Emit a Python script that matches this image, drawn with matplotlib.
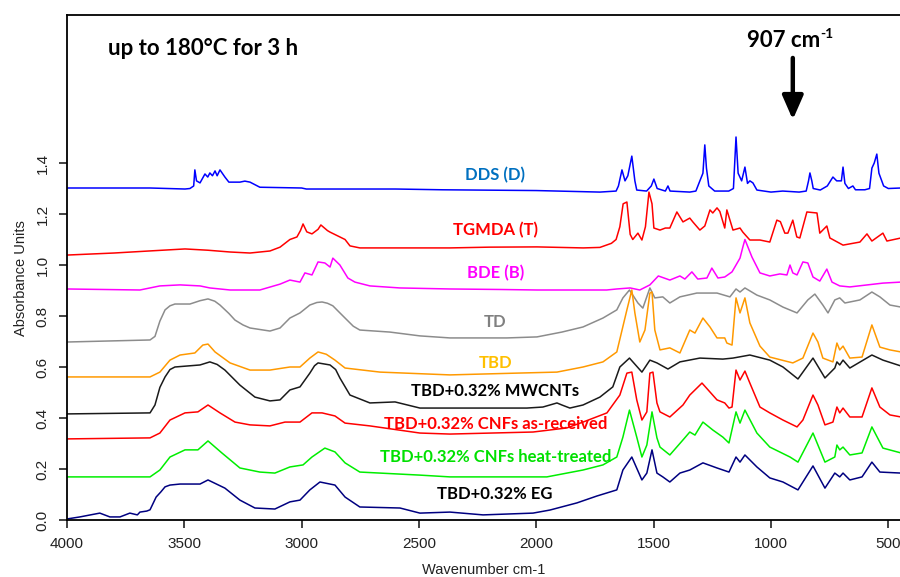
import numpy as np
import matplotlib
matplotlib.use('Agg')
import matplotlib.pyplot as plt

# FTIR spectra (wavenumber cm-1, absorbance), offset stacked as in the original
dds = [(4000, 1.302), (3646, 1.302), (3497, 1.298), (3476, 1.300), (3460, 1.310), (3455, 1.373),
       (3448, 1.330), (3433, 1.322), (3412, 1.357), (3400, 1.345), (3391, 1.361), (3380, 1.350),
       (3369, 1.369), (3360, 1.350), (3348, 1.373), (3327, 1.345), (3310, 1.325), (3284, 1.325),
       (3263, 1.325), (3242, 1.329), (3220, 1.325), (3178, 1.305), (3000, 1.302), (2980, 1.298),
       (2600, 1.298), (2400, 1.295), (2000, 1.292), (1729, 1.286), (1660, 1.290), (1650, 1.310),
       (1635, 1.373), (1622, 1.330), (1610, 1.350), (1593, 1.427), (1580, 1.330), (1572, 1.294),
       (1530, 1.290), (1510, 1.310), (1499, 1.337), (1485, 1.300), (1450, 1.290), (1439, 1.310),
       (1430, 1.290), (1346, 1.286), (1320, 1.290), (1303, 1.330), (1290, 1.360), (1282, 1.471),
       (1275, 1.380), (1265, 1.310), (1240, 1.290), (1180, 1.290), (1160, 1.300), (1149, 1.502),
       (1140, 1.360), (1125, 1.330), (1111, 1.384), (1100, 1.320), (1090, 1.330), (1077, 1.322),
       (1060, 1.294), (1000, 1.286), (950, 1.290), (880, 1.286), (850, 1.290), (840, 1.330),
       (834, 1.361), (826, 1.330), (820, 1.300), (790, 1.294), (760, 1.310), (736, 1.345),
       (720, 1.330), (700, 1.330), (693, 1.384), (685, 1.320), (670, 1.300), (651, 1.310),
       (640, 1.295), (600, 1.295), (580, 1.300), (570, 1.380), (560, 1.400), (549, 1.435),
       (540, 1.360), (520, 1.310), (500, 1.300), (446, 1.302)]

tgmda = [(4000, 1.039), (3800, 1.047), (3650, 1.055), (3497, 1.063), (3400, 1.058), (3305, 1.051),
         (3220, 1.047), (3135, 1.055), (3092, 1.070), (3050, 1.100), (3020, 1.110), (3005, 1.135),
         (2994, 1.161), (2978, 1.130), (2956, 1.122), (2930, 1.140), (2918, 1.157), (2890, 1.135),
         (2879, 1.129), (2837, 1.110), (2815, 1.100), (2794, 1.075), (2752, 1.067), (2368, 1.067),
         (2200, 1.070), (1997, 1.071), (1800, 1.067), (1729, 1.069), (1680, 1.085), (1660, 1.100),
         (1644, 1.150), (1630, 1.240), (1614, 1.247), (1600, 1.120), (1589, 1.100), (1567, 1.125),
         (1550, 1.098), (1535, 1.150), (1520, 1.286), (1507, 1.240), (1499, 1.145), (1473, 1.137),
         (1450, 1.145), (1431, 1.145), (1401, 1.208), (1375, 1.169), (1346, 1.184), (1333, 1.169),
         (1303, 1.137), (1282, 1.153), (1260, 1.216), (1248, 1.204), (1230, 1.224), (1218, 1.210),
         (1197, 1.145), (1188, 1.216), (1162, 1.137), (1132, 1.145), (1120, 1.129), (1090, 1.098),
         (1047, 1.098), (1005, 1.090), (975, 1.176), (960, 1.170), (941, 1.125), (928, 1.125),
         (907, 1.176), (890, 1.110), (877, 1.106), (847, 1.208), (804, 1.204), (792, 1.125),
         (762, 1.153), (749, 1.106), (693, 1.078), (621, 1.090), (591, 1.122), (570, 1.094),
         (523, 1.125), (506, 1.094), (446, 1.106)]

bde = [(4000, 0.906), (3689, 0.902), (3604, 0.918), (3518, 0.922), (3433, 0.918), (3391, 0.910),
       (3305, 0.902), (3178, 0.902), (3092, 0.925), (3050, 0.941), (3007, 0.933), (2986, 0.969),
       (2956, 0.961), (2930, 1.012), (2901, 1.008), (2879, 0.992), (2867, 1.027), (2837, 1.000),
       (2803, 0.949), (2773, 0.933), (2709, 0.918), (2581, 0.910), (2368, 0.906), (2155, 0.904),
       (1997, 0.902), (1700, 0.902), (1657, 0.906), (1600, 0.910), (1559, 0.902), (1516, 0.922),
       (1480, 0.957), (1431, 0.941), (1388, 0.957), (1367, 0.945), (1337, 0.973), (1312, 0.945),
       (1273, 0.949), (1252, 0.988), (1226, 0.949), (1197, 0.953), (1166, 0.973), (1132, 1.027),
       (1120, 1.070), (1111, 1.100), (1098, 1.070), (1081, 1.031), (1047, 0.969), (1005, 0.957),
       (962, 0.965), (932, 0.961), (919, 1.000), (907, 0.969), (889, 0.961), (864, 1.012),
       (843, 1.008), (821, 0.953), (792, 0.937), (762, 0.984), (740, 0.933), (707, 0.918),
       (664, 0.914), (523, 0.929), (446, 0.933)]

td = [(4000, 0.698), (3646, 0.706), (3625, 0.720), (3604, 0.780), (3582, 0.824), (3561, 0.840),
      (3540, 0.847), (3476, 0.847), (3433, 0.860), (3399, 0.867), (3370, 0.858), (3348, 0.843),
      (3310, 0.810), (3284, 0.784), (3250, 0.765), (3220, 0.753), (3135, 0.741), (3092, 0.753),
      (3050, 0.792), (3007, 0.812), (2965, 0.843), (2935, 0.853), (2913, 0.855), (2890, 0.850),
      (2867, 0.840), (2840, 0.815), (2815, 0.792), (2780, 0.760), (2752, 0.745), (2624, 0.737),
      (2496, 0.722), (2368, 0.714), (2125, 0.714), (1997, 0.718), (1891, 0.737), (1801, 0.757),
      (1716, 0.792), (1657, 0.824), (1631, 0.871), (1603, 0.902), (1567, 0.851), (1546, 0.831),
      (1516, 0.910), (1495, 0.871), (1461, 0.875), (1431, 0.851), (1388, 0.875), (1316, 0.890),
      (1230, 0.890), (1175, 0.875), (1149, 0.906), (1132, 0.894), (1111, 0.910), (1060, 0.882),
      (1005, 0.863), (949, 0.835), (889, 0.812), (843, 0.863), (813, 0.886), (779, 0.843),
      (757, 0.812), (728, 0.863), (707, 0.871), (685, 0.851), (621, 0.863), (570, 0.894),
      (536, 0.875), (493, 0.843), (446, 0.835)]

tbd = [(4000, 0.561), (3646, 0.561), (3604, 0.580), (3561, 0.627), (3518, 0.647), (3455, 0.655),
       (3421, 0.686), (3399, 0.690), (3369, 0.659), (3305, 0.616), (3220, 0.588), (3135, 0.588),
       (3050, 0.600), (3007, 0.600), (2965, 0.635), (2930, 0.659), (2895, 0.650), (2858, 0.627),
       (2815, 0.596), (2666, 0.580), (2368, 0.569), (2083, 0.576), (1912, 0.580), (1801, 0.600),
       (1716, 0.620), (1657, 0.659), (1614, 0.824), (1593, 0.902), (1580, 0.812), (1559, 0.698),
       (1537, 0.745), (1516, 0.890), (1507, 0.894), (1495, 0.745), (1473, 0.667), (1431, 0.675),
       (1388, 0.655), (1346, 0.745), (1324, 0.733), (1290, 0.792), (1260, 0.757), (1230, 0.714),
       (1197, 0.714), (1188, 0.694), (1166, 0.686), (1149, 0.871), (1132, 0.812), (1111, 0.871),
       (1090, 0.773), (1047, 0.682), (1005, 0.639), (907, 0.616), (864, 0.635), (821, 0.733),
       (800, 0.698), (779, 0.635), (736, 0.620), (719, 0.694), (707, 0.667), (693, 0.682),
       (664, 0.635), (612, 0.639), (570, 0.765), (536, 0.678), (493, 0.667), (446, 0.659)]

mwcnt = [(4000, 0.416), (3646, 0.420), (3625, 0.451), (3604, 0.520), (3582, 0.561), (3561, 0.590),
         (3540, 0.600), (3433, 0.608), (3391, 0.620), (3360, 0.610), (3327, 0.588), (3263, 0.529),
         (3199, 0.482), (3135, 0.467), (3092, 0.471), (3050, 0.510), (3007, 0.522), (2965, 0.576),
         (2945, 0.605), (2930, 0.616), (2879, 0.608), (2855, 0.590), (2837, 0.557), (2794, 0.490),
         (2709, 0.459), (2602, 0.463), (2496, 0.439), (2368, 0.439), (2040, 0.439), (1972, 0.443),
         (1912, 0.459), (1891, 0.451), (1857, 0.439), (1801, 0.451), (1729, 0.482), (1674, 0.522),
         (1644, 0.600), (1603, 0.635), (1550, 0.580), (1516, 0.627), (1486, 0.616), (1439, 0.592),
         (1388, 0.620), (1303, 0.635), (1205, 0.631), (1162, 0.635), (1090, 0.647), (1005, 0.627),
         (949, 0.600), (885, 0.553), (821, 0.635), (770, 0.557), (728, 0.596), (719, 0.620),
         (707, 0.608), (693, 0.627), (664, 0.596), (570, 0.647), (523, 0.627), (446, 0.604)]

cnf_ar = [(4000, 0.318), (3646, 0.322), (3604, 0.341), (3561, 0.392), (3497, 0.420), (3442, 0.424),
          (3399, 0.451), (3348, 0.420), (3284, 0.384), (3220, 0.373), (3135, 0.369), (3071, 0.384),
          (3007, 0.384), (2956, 0.420), (2913, 0.420), (2858, 0.408), (2815, 0.380), (2709, 0.369),
          (2496, 0.341), (2368, 0.337), (2014, 0.345), (1870, 0.361), (1801, 0.384), (1699, 0.420),
          (1644, 0.490), (1614, 0.576), (1593, 0.580), (1572, 0.471), (1550, 0.392), (1529, 0.424),
          (1516, 0.576), (1503, 0.580), (1486, 0.459), (1473, 0.424), (1431, 0.404), (1375, 0.451),
          (1346, 0.490), (1294, 0.537), (1260, 0.502), (1230, 0.471), (1197, 0.459), (1179, 0.439),
          (1166, 0.443), (1149, 0.588), (1132, 0.549), (1111, 0.584), (1090, 0.537), (1047, 0.443),
          (1005, 0.420), (949, 0.392), (889, 0.365), (864, 0.392), (821, 0.490), (800, 0.451),
          (770, 0.373), (736, 0.384), (719, 0.443), (707, 0.420), (693, 0.439), (664, 0.404),
          (612, 0.404), (570, 0.518), (536, 0.443), (493, 0.412), (446, 0.404)]

cnf_ht = [(4000, 0.169), (3646, 0.169), (3604, 0.196), (3561, 0.247), (3497, 0.275), (3442, 0.275),
          (3399, 0.310), (3340, 0.263), (3263, 0.204), (3178, 0.188), (3114, 0.184), (3050, 0.208),
          (2994, 0.216), (2956, 0.247), (2901, 0.282), (2858, 0.267), (2815, 0.224), (2752, 0.188),
          (2496, 0.176), (2368, 0.169), (1955, 0.169), (1801, 0.196), (1716, 0.216), (1657, 0.247),
          (1631, 0.325), (1603, 0.431), (1572, 0.325), (1550, 0.247), (1529, 0.294), (1507, 0.424),
          (1486, 0.322), (1473, 0.286), (1431, 0.255), (1375, 0.314), (1346, 0.345), (1324, 0.333),
          (1290, 0.384), (1248, 0.353), (1205, 0.325), (1179, 0.302), (1149, 0.424), (1132, 0.380),
          (1111, 0.431), (1060, 0.341), (1005, 0.286), (919, 0.247), (885, 0.227), (821, 0.341),
          (770, 0.227), (728, 0.247), (719, 0.294), (707, 0.275), (693, 0.286), (664, 0.255),
          (612, 0.263), (570, 0.365), (523, 0.282), (446, 0.263)]

eg = [(4000, 0.004), (3945, 0.012), (3900, 0.020), (3860, 0.027), (3817, 0.012), (3774, 0.012),
      (3732, 0.027), (3700, 0.020), (3689, 0.031), (3660, 0.035), (3646, 0.040), (3620, 0.090),
      (3600, 0.110), (3582, 0.130), (3561, 0.137), (3518, 0.141), (3433, 0.141), (3399, 0.157),
      (3327, 0.125), (3263, 0.078), (3199, 0.047), (3114, 0.043), (3050, 0.071), (3007, 0.078),
      (2965, 0.118), (2922, 0.149), (2858, 0.137), (2815, 0.090), (2752, 0.051), (2581, 0.047),
      (2496, 0.027), (2368, 0.031), (2227, 0.020), (2014, 0.027), (1942, 0.039), (1827, 0.067),
      (1742, 0.094), (1657, 0.118), (1631, 0.196), (1593, 0.247), (1550, 0.157), (1529, 0.184),
      (1507, 0.275), (1486, 0.184), (1461, 0.169), (1431, 0.149), (1388, 0.184), (1346, 0.196),
      (1290, 0.224), (1230, 0.204), (1179, 0.188), (1149, 0.247), (1132, 0.227), (1111, 0.255),
      (1060, 0.208), (1005, 0.165), (949, 0.149), (885, 0.118), (821, 0.212), (770, 0.125),
      (728, 0.184), (707, 0.169), (693, 0.184), (664, 0.157), (612, 0.169), (570, 0.227),
      (536, 0.188), (446, 0.184)]

series = [dds, tgmda, bde, td, tbd, mwcnt, cnf_ar, cnf_ht, eg]
line_colors = ['#0000FF', '#FF0000', '#FF00FF', '#8C8C8C', '#FF9900', '#1A1A1A', '#FF0000', '#00EE00', '#000080']
names = ['DDS (D)', 'TGMDA (T)', 'BDE (B)', 'TD', 'TBD', 'TBD+0.32% MWCNTs',
         'TBD+0.32% CNFs as-received', 'TBD+0.32% CNFs heat-treated', 'TBD+0.32% EG']
name_colors = ['#0070C0', '#FF0000', '#FF00FF', '#808080', '#FFC000', '#000000', '#FF0000', '#00E000', '#000000']
name_y = [1.353, 1.137, 0.969, 0.776, 0.616, 0.506, 0.376, 0.247, 0.102]
name_x = 2175

fig = plt.figure(figsize=(9, 5.77), dpi=100)
ax = fig.add_axes([0.0744, 0.0988, 0.9267, 0.875])

for s, c in zip(series, line_colors):
    wn, ab = np.array(s).T
    ax.plot(wn, ab, color=c, lw=1.1)

for name, c, y in zip(names, name_colors, name_y):
    ax.text(name_x, y, name, color=c, fontsize=12, fontweight='bold', family='Lato',
            ha='center', va='center')

ax.text(3825, 1.851, 'up to 180°C for 3 h', fontsize=16, fontweight='bold', family='Lato',
        ha='left', va='center')
# 907 cm-1 marker
ax.text(792, 1.880, '907 cm', fontsize=16, fontweight='bold', family='Lato', ha='right', va='center')
ax.text(790, 1.905, '-1', fontsize=10, fontweight='bold', family='Lato', ha='left', va='center')
ax.annotate('', xy=(907, 1.570), xytext=(907, 1.812),
            arrowprops=dict(arrowstyle='-|>,head_width=0.35,head_length=0.8', color='black',
                            lw=3.2, mutation_scale=18, shrinkA=0, shrinkB=0))

ax.set_xlim(4000, 446)
ax.set_ylim(0, 1.98)
ax.set_xticks([4000, 3500, 3000, 2500, 2000, 1500, 1000, 500])
ax.set_yticks([0.0, 0.2, 0.4, 0.6, 0.8, 1.0, 1.2, 1.4])
ax.set_yticklabels(['0.0', '0.2', '0.4', '0.6', '0.8', '1.0', '1.2', '1.4'], rotation=90, va='center')
ax.tick_params(labelsize=11, colors='#222222', length=5.5, width=1.2, direction='out',
               labelfontfamily='Liberation Sans')
ax.tick_params(axis='x', pad=7)
ax.tick_params(axis='y', pad=7)
ax.spines['right'].set_visible(False)
for sp in ['left', 'bottom', 'top']:
    ax.spines[sp].set_linewidth(1.3)
ax.set_xlabel('Wavenumber cm-1', fontsize=10.5, family='Liberation Sans', color='#222222')
ax.set_ylabel('Absorbance Units', fontsize=10.5, family='Liberation Sans', color='#222222')
ax.xaxis.set_label_coords(0.5, -0.085)
ax.yaxis.set_label_coords(-0.047, 0.48)

fig.savefig('out.png', dpi=100)
